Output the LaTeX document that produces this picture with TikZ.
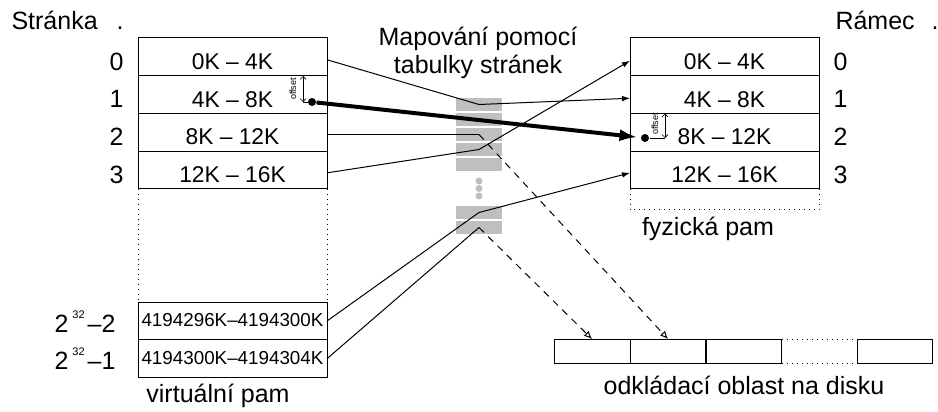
\documentclass[tikz,border=0pt]{standalone}
\usepackage{fontspec}
\setmainfont{Liberation Sans}
\usetikzlibrary{positioning,arrows.meta}

\begin{document}
\begin{tikzpicture}[x=0.5pt, y=-0.5pt, line width=0.5pt,
    every node/.style={font=\fontsize{12.5}{14}\selectfont},
    cell/.style={draw, rectangle, minimum width=94.5pt, minimum height=18.85pt, inner sep=0pt, outer sep=0pt,
        text height=12.6pt, text depth=0pt, font=\fontsize{11.4}{13}\selectfont},
    bigcell/.style={cell, text height=5.5pt, font=\fontsize{9.4}{11}\selectfont},
    num/.style={inner sep=0pt, text height=13.5pt, text depth=0pt},
    expo/.style={inner sep=0pt, text height=11pt, text depth=0pt},
    entry/.style={fill=gray!50, minimum width=23pt, minimum height=6.5pt, inner sep=0pt},
    gapdot/.style={circle, fill=gray!50, minimum size=3.5pt, inner sep=0pt},
    spot/.style={circle, fill=black, minimum size=4pt, inner sep=0pt},
    diskcell/.style={draw, rectangle, minimum width=38pt, minimum height=12pt, inner sep=0pt, outer sep=0pt},
    map/.style={-{Latex[length=4pt,width=2.8pt]}},
    swap/.style={dash pattern=on 3.5pt off 3pt, -{Latex[open,length=4pt,width=3.5pt]}},
    offs/.style={line width=0.3pt, {Straight Barb[length=1.5pt,width=3pt]}-{Straight Barb[length=1.5pt,width=3pt]}},
    offtext/.style={font=\fontsize{4.5}{5}\selectfont, rotate=90, inner sep=0pt}]
    \useasboundingbox (0,0) rectangle (938,412);

    % Virtual memory
    \node [cell] (v0) at (232.5,56.75) {0K -- 4K};
    \node [cell, below=0pt of v0] (v1) {4K -- 8K};
    \node [cell, below=0pt of v1] (v2) {8K -- 12K};
    \node [cell, below=0pt of v2] (v3) {12K -- 16K};
    \node [bigcell] (vb1) at (232.5,321) {4194296K--4194300K};
    \node [bigcell, below=0pt of vb1] (vb2) {4194300K--4194304K};
    \draw [dotted] (v3.south west) -- (vb1.north west);
    \draw [dotted] (v3.south east) -- (vb1.north east);
    \foreach \i in {0,...,3}
        \node [num, left=7pt of v\i] (vn\i) {\i};
    \node [expo, left=11pt of vb1] (vn5) {2\hspace{2pt}\raisebox{7pt}{\fontsize{5.5}{6}\selectfont 32}\hspace{1.5pt}--2};
    \node [expo, left=11pt of vb2] (vn6) {2\hspace{2pt}\raisebox{7pt}{\fontsize{5.5}{6}\selectfont 32}\hspace{1.5pt}--1};
    \node [anchor=base west, inner sep=0pt] (pagelbl) at (11,30) {Stránka\hspace{9.5pt}.};
    \node (virtlbl) at (218,396) {virtuální pam};

    % Physical memory
    \node [cell] (p0) at (724.5,56.75) {0K -- 4K};
    \node [cell, below=0pt of p0] (p1) {4K -- 8K};
    \node [cell, below=0pt of p1] (p2) {8K -- 12K};
    \node [cell, below=0pt of p2] (p3) {12K -- 16K};
    \draw [dotted] (p3.south west) -- ++(0,21) -| (p3.south east);
    \foreach \i in {0,...,3}
        \node [num, right=7pt of p\i] (pn\i) {\i};
    \node [anchor=base west, inner sep=0pt] (framelbl) at (835,30) {Rámec\hspace{8.5pt}.};
    \node (physlbl) at (708,229) {fyzická pam};

    % Page table
    \node [align=center] (title) at (478,53) {Mapování pomocí\\tabulky stránek};
    \foreach \y [count=\k] in {104.5,119.5,134.5,149.5,164.5,212.5,227.5}
        \node [entry] (pt\k) at (479,\y) {};
    \foreach \y [count=\k] in {181,188.5,196}
        \node [gapdot] (gap\k) at (479,\y) {};

    % Disk
    \node [diskcell] (d1) at (592,351) {};
    \node [diskcell] (d2) at (668,351) {};
    \node [diskcell] (d3) at (743.5,351) {};
    \node [diskcell, minimum width=37.5pt] (d4) at (894.5,351) {};
    \draw [dotted] (d3.north east) -- (d4.north west);
    \draw [dotted] (d3.south east) -- (d4.south west);
    \node (disklbl) at (744,385) {odkládací oblast na disku};

    % Mapping
    \draw [map] ([yshift=-1.5pt]v0.east) -- (pt1.center) -- ([yshift=-1.9pt]p1.west);
    \draw [map] ([yshift=-1.5pt]v3.east) -- (pt4.center) -- ([yshift=-2pt]p0.west);
    \draw [map] (vb1.east) -- (pt6.center) -- ([yshift=-1.5pt]p3.west);
    \draw (v2.east |- pt3.center) -- (pt3.center);
    \draw [swap] (pt3.center) -- (d2.north);
    \draw (vb2.east) -- (pt7.center);
    \draw [swap] (pt7.center) -- (d1.north);

    % Offset
    \node [spot] (vd) at (312,102) {};
    \node [spot] (pd) at (645,138) {};
    \draw [line width=2pt, -{Latex[length=9pt,width=6pt]}, shorten >=1.5pt] (vd) -- (pd);
    \coordinate (vtop) at (303,76);
    \coordinate (vbot) at (303,102);
    \draw [offs] (vtop) -- (vbot);
    \draw [line width=0.3pt] (vbot) -- (vd);
    \node [offtext] (vofs) at (293,89) {offset};
    \coordinate (ptop) at (665,113.5);
    \coordinate (pbot) at (665,138);
    \draw [offs] (ptop) -- (pbot);
    \draw [line width=0.3pt] (pd) -- (pbot);
    \node [offtext] (pofs) at (655,124) {offset};

\end{tikzpicture}
\end{document}
